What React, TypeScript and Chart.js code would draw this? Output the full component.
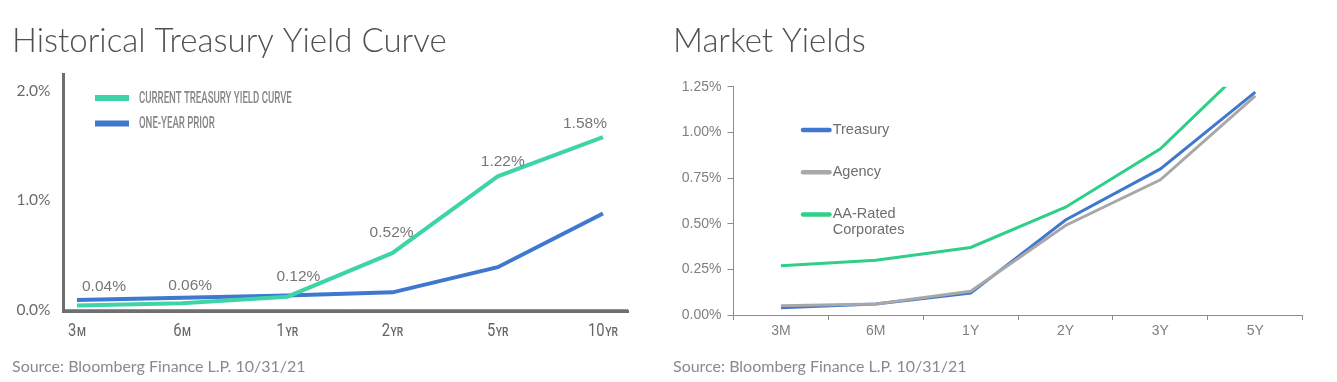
import React, { useEffect, useRef } from 'react';
import { Chart, registerables } from 'chart.js';

Chart.register(...registerables);

// ---------- data: Historical Treasury Yield Curve ----------
const HIST_TENORS = ['3M', '6M', '1YR', '2YR', '5YR', '10YR'];
const HIST_CURRENT = [0.04, 0.06, 0.12, 0.52, 1.22, 1.58];
const HIST_PRIOR = [0.09, 0.11, 0.13, 0.16, 0.39, 0.88];
const HIST_SERIES = ['CURRENT TREASURY YIELD CURVE', 'ONE-YEAR PRIOR'];
const HIST_Y_TICKS = [0, 1, 2];
const HIST_TITLE = 'Historical Treasury Yield Curve';

// ---------- data: Market Yields ----------
const MKT_TENORS = ['3M', '6M', '1Y', '2Y', '3Y', '5Y'];
const MKT_TREASURY = [0.04, 0.06, 0.12, 0.52, 0.8, 1.22];
const MKT_AGENCY = [0.05, 0.06, 0.13, 0.49, 0.74, 1.2];
const MKT_CORPORATES = [0.27, 0.3, 0.37, 0.59, 0.91, 1.41];
const MKT_SERIES = ['Treasury', 'Agency', 'AA-Rated\nCorporates'];
const MKT_TITLE = 'Market Yields';

const SOURCE = 'Source: Bloomberg Finance L.P. 10/31/21';

// ---------- styles ----------
const GREEN_L = '#3fd4a8';
const BLUE_L = '#3e79cf';
const AXIS_L = '#6f6f6f';
const BLUE_R = '#3f78cd';
const GRAY_R = '#a8a8a8';
const GREEN_R = '#30cf88';
const AXIS_R = '#8c8c8c';
const TITLE_COLOR = '#505050';
const SOURCE_COLOR = '#8a8a8a';
const LABEL_DX = [27, 8, 11, -1, 5, -18];
const LABEL_DY = [-19, -18, -20, -20, -15, -13];

function drawCondensed(ctx: CanvasRenderingContext2D, text: string, x: number, y: number, sx: number) {
  ctx.save();
  ctx.translate(x, y);
  ctx.scale(sx, 1);
  ctx.fillText(text, 0, 0);
  ctx.restore();
}

const histLegend = {
  id: 'histLegend',
  afterDraw(chart: any) {
    const { ctx, chartArea: a } = chart;
    chart.data.datasets.forEach((ds: any, i: number) => {
      const y = a.top + 24 + i * 25.5;
      ctx.save();
      ctx.strokeStyle = ds.borderColor;
      ctx.lineWidth = 6;
      ctx.lineCap = 'butt';
      ctx.beginPath();
      ctx.moveTo(a.left + 31.5, y);
      ctx.lineTo(a.left + 65.5, y);
      ctx.stroke();
      ctx.fillStyle = '#858585';
      ctx.font = '500 16px Roboto';
      ctx.textBaseline = 'middle';
      ctx.textAlign = 'left';
      drawCondensed(ctx, ds.label, a.left + 75.5, y + 0.5, 0.6);
      ctx.restore();
    });
  },
};

const histLabels = {
  id: 'histLabels',
  afterDatasetsDraw(chart: any) {
    const meta = chart.getDatasetMeta(0);
    const ctx = chart.ctx;
    ctx.save();
    ctx.font = '15.5px "Liberation Sans", Arial, sans-serif';
    ctx.fillStyle = '#777777';
    ctx.textAlign = 'center';
    ctx.textBaseline = 'middle';
    meta.data.forEach((pt: any, i: number) => {
      ctx.fillText(HIST_CURRENT[i].toFixed(2) + '%', pt.x + LABEL_DX[i], pt.y + LABEL_DY[i]);
    });
    ctx.restore();
  },
};

const histXLabels = {
  id: 'histXLabels',
  afterDraw(chart: any) {
    const xs = chart.scales.x;
    const a = chart.chartArea;
    const ctx = chart.ctx;
    const sx = 0.82;
    ctx.save();
    ctx.fillStyle = '#666666';
    ctx.textBaseline = 'alphabetic';
    ctx.textAlign = 'left';
    HIST_TENORS.forEach((t, i) => {
      const m = t.match(/^(\d+)(.*)$/) as RegExpMatchArray;
      const num = m[1];
      const unit = m[2];
      ctx.font = '18px Roboto';
      const w1 = ctx.measureText(num).width * sx;
      ctx.font = '500 12.5px Roboto';
      const w2 = ctx.measureText(unit).width * sx;
      const cx = xs.getPixelForValue(i);
      const x = cx - (w1 + w2 + 0.5) / 2;
      const y = a.bottom + 24;
      ctx.font = '18px Roboto';
      drawCondensed(ctx, num, x, y, sx);
      ctx.font = '500 12.5px Roboto';
      drawCondensed(ctx, unit, x + w1 + 0.5, y, sx);
    });
    ctx.restore();
  },
};

const mktLegend = {
  id: 'mktLegend',
  afterDraw(chart: any) {
    const { ctx, chartArea: a } = chart;
    chart.data.datasets.forEach((ds: any, i: number) => {
      const y = a.top + 43.3 + i * 42.2;
      ctx.save();
      ctx.strokeStyle = ds.borderColor;
      ctx.lineWidth = 4.5;
      ctx.lineCap = 'round';
      ctx.beginPath();
      ctx.moveTo(a.left + 69.5, y);
      ctx.lineTo(a.left + 96, y);
      ctx.stroke();
      ctx.fillStyle = '#6e6e6e';
      ctx.font = '14.5px "Liberation Sans", Arial, sans-serif';
      ctx.textBaseline = 'middle';
      ctx.textAlign = 'left';
      String(ds.label).split('\n').forEach((line, j) => {
        ctx.fillText(line, a.left + 99.2, y + j * 16);
      });
      ctx.restore();
    });
  },
};

function HistChart() {
  const ref = useRef<HTMLCanvasElement>(null);
  useEffect(() => {
    if (!ref.current) return;
    const chart = new Chart(ref.current, {
      type: 'line',
      data: {
        datasets: [
          {
            label: HIST_SERIES[0],
            data: HIST_CURRENT.map((v, i) => ({ x: i, y: v })),
            borderColor: GREEN_L,
            borderWidth: 4,
            pointRadius: 0,
            tension: 0,
            fill: false,
          },
          {
            label: HIST_SERIES[1],
            data: HIST_PRIOR.map((v, i) => ({ x: i, y: v })),
            borderColor: BLUE_L,
            borderWidth: 4,
            pointRadius: 0,
            tension: 0,
            fill: false,
          },
        ],
      },
      options: {
        animation: false,
        responsive: false,
        layout: { padding: { left: 12, right: 32, top: 0, bottom: 0 } },
        plugins: {
          legend: { display: false },
          tooltip: { enabled: false },
          title: {
            display: true,
            text: HIST_TITLE,
            align: 'start',
            color: TITLE_COLOR,
            font: { family: 'Lato', size: 33, weight: '300' as any, lineHeight: 1.2 },
            padding: { top: 21.7, bottom: 12.7 },
          },
          subtitle: {
            display: true,
            text: SOURCE,
            position: 'bottom',
            align: 'start',
            color: SOURCE_COLOR,
            font: { family: 'Lato', size: 16, lineHeight: 1.2 },
            padding: { top: 0, bottom: 6 },
          },
        },
        scales: {
          x: {
            type: 'linear',
            min: -0.128,
            max: 5.238,
            ticks: { display: false },
            grid: { display: false },
            border: { display: true, width: 3, color: AXIS_L },
            afterFit: (s: any) => {
              s.height = 45;
            },
          },
          y: {
            type: 'linear',
            min: -0.018,
            max: 2.156,
            afterBuildTicks: (s: any) => {
              s.ticks = HIST_Y_TICKS.map((v) => ({ value: v }));
            },
            ticks: {
              callback: (v: any) => Number(v).toFixed(1) + '%',
              color: '#6a6a6a',
              font: { family: 'Lato', size: 15.5 },
              padding: 13,
            },
            grid: {
              drawTicks: false,
              lineWidth: 1,
              color: (c: any) => (c.tick && c.tick.value === 0 ? '#8f8f8f' : 'rgba(0,0,0,0)'),
            },
            border: { display: true, width: 3, color: AXIS_L },
            afterFit: (s: any) => {
              s.width = 51.5;
            },
          },
        },
      } as any,
      plugins: [histLegend, histLabels, histXLabels],
    });
    return () => chart.destroy();
  }, []);
  return (
    <canvas
      ref={ref}
      width={660}
      height={382}
      style={{ position: 'absolute', left: 0, top: 0, width: 660, height: 382 }}
    />
  );
}

function MarketChart() {
  const ref = useRef<HTMLCanvasElement>(null);
  useEffect(() => {
    if (!ref.current) return;
    const chart = new Chart(ref.current, {
      type: 'line',
      data: {
        labels: MKT_TENORS,
        datasets: [
          { label: MKT_SERIES[0], data: MKT_TREASURY, borderColor: BLUE_R, borderWidth: 3, pointRadius: 0, order: 1 },
          { label: MKT_SERIES[1], data: MKT_AGENCY, borderColor: GRAY_R, borderWidth: 3, pointRadius: 0, order: 0 },
          { label: MKT_SERIES[2], data: MKT_CORPORATES, borderColor: GREEN_R, borderWidth: 3, pointRadius: 0, order: 2 },
        ],
      },
      options: {
        animation: false,
        responsive: false,
        layout: { padding: { left: 13, right: 34.3, top: 0, bottom: 0 } },
        plugins: {
          legend: { display: false },
          tooltip: { enabled: false },
          title: {
            display: true,
            text: MKT_TITLE,
            align: 'start',
            color: TITLE_COLOR,
            font: { family: 'Lato', size: 33, weight: '300' as any, lineHeight: 1.2 },
            padding: { top: 21.7, bottom: 25.4 },
          },
          subtitle: {
            display: true,
            text: SOURCE,
            position: 'bottom',
            align: 'start',
            color: SOURCE_COLOR,
            font: { family: 'Lato', size: 16, lineHeight: 1.2 },
            padding: { top: 0, bottom: 6 },
          },
        },
        scales: {
          x: {
            offset: true,
            grid: { offset: true, drawOnChartArea: false, drawTicks: true, tickLength: 5, color: AXIS_R },
            border: { display: true, width: 1, color: AXIS_R },
            ticks: {
              color: '#7f7f7f',
              font: { family: '"Liberation Sans", Arial, sans-serif', size: 14 },
              padding: 3,
              maxRotation: 0,
            },
            afterFit: (s: any) => {
              s.height = 41.8;
            },
          },
          y: {
            min: 0,
            max: 1.25,
            ticks: {
              stepSize: 0.25,
              callback: (v: any) => Number(v).toFixed(2) + '%',
              color: '#7f7f7f',
              font: { family: '"Liberation Sans", Arial, sans-serif', size: 14 },
              padding: 6,
            },
            grid: { drawOnChartArea: false, drawTicks: true, tickLength: 6, color: AXIS_R },
            border: { display: true, width: 1, color: AXIS_R },
            afterFit: (s: any) => {
              s.width = 60.5;
            },
          },
        },
      } as any,
      plugins: [mktLegend],
    });
    return () => chart.destroy();
  }, []);
  return (
    <canvas
      ref={ref}
      width={677}
      height={382}
      style={{ position: 'absolute', left: 660, top: 0, width: 677, height: 382 }}
    />
  );
}

export default function App() {
  return (
    <div
      style={{
        position: 'absolute',
        left: 0,
        top: 0,
        width: 1337,
        height: 382,
        background: '#ffffff',
        overflow: 'hidden',
      }}
    >
      <HistChart />
      <MarketChart />
    </div>
  );
}
